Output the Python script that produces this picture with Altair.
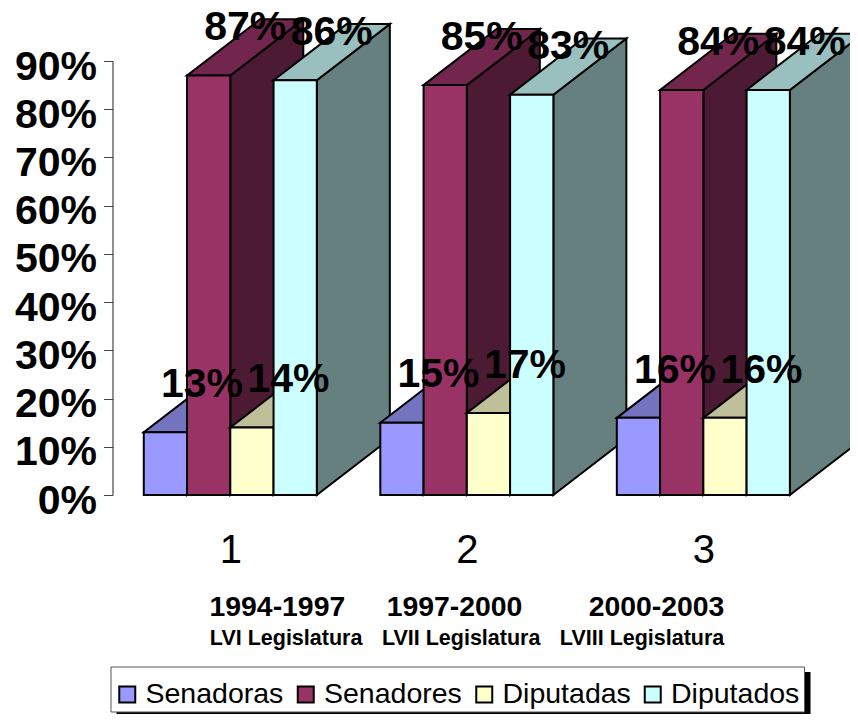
import altair as alt
import pandas as pd

FONT = "Liberation Sans"
series = ["Senadoras", "Senadores", "Diputadas", "Diputados"]
groups = [1, 2, 3]
senadoras = [0.13, 0.15, 0.16]
senadores = [0.87, 0.85, 0.84]
diputadas = [0.14, 0.17, 0.16]
diputados = [0.86, 0.83, 0.84]
values = [senadoras, senadores, diputadas, diputados]
front_colors = ["#9999FF", "#993366", "#FFFFCC", "#CCFFFF"]
top_colors = ["#7373BF", "#73264D", "#BFBF99", "#99BFBF"]
side_colors = ["#4D4D80", "#4D1A33", "#808066", "#668080"]
years = ["1994-1997", "1997-2000", "2000-2003"]
years_x = [1.199, 1.948, 2.802]
legislaturas = ["LVI Legislatura", "LVII Legislatura", "LVIII Legislatura"]
legislaturas_x = [1.236, 1.976, 2.741]

BAR_W = 0.1829   # one bar, in category units
DEPTH_X = 0.3087  # oblique depth, in category units
DEPTH_Y = 0.1165  # oblique depth, in value units

x_scale = alt.Scale(domain=[0.502, 3.620], nice=False, zero=False)
y_scale = alt.Scale(domain=[0, 0.9], nice=False)
color_scale = alt.Scale(domain=series, range=front_colors)

x_axis = alt.Axis(
    values=groups, format="d", domain=False, ticks=False, grid=False, title=None,
    labelFont=FONT, labelFontSize=40, labelColor="#000", labelPadding=35)
y_axis = alt.Axis(
    values=[i / 10 for i in range(10)], format=".0%", grid=False, title=None,
    domainColor="#222", tickColor="#444", tickSize=9, domainWidth=1,
    labelFont=FONT, labelFontSize=41, labelFontWeight="bold", labelOffset=6,
    labelColor="#000", labelPadding=7)

X = alt.X("x:Q", scale=x_scale, axis=x_axis)
Y = alt.Y("y:Q", scale=y_scale, axis=y_axis)

layers = []

# legend box and its shadow
dummy = pd.DataFrame({"a": [0]})
layers.append(alt.Chart(dummy).mark_rect(color="#000").encode(
    x=alt.value(4), x2=alt.value(698), y=alt.value(611), y2=alt.value(653)))
layers.append(alt.Chart(dummy).mark_rect(fill="#fff", stroke="#555", strokeWidth=1).encode(
    x=alt.value(-1.5), x2=alt.value(692), y=alt.value(606), y2=alt.value(651)))

label_rows = []
for g_i, g in enumerate(groups):
    left0 = g - 2 * BAR_W
    for s_i, name in enumerate(series):
        v = values[s_i][g_i]
        x0 = left0 + s_i * BAR_W
        x1 = x0 + BAR_W
        side = pd.DataFrame({"x": [x1, x1 + DEPTH_X], "y": [0, DEPTH_Y], "y2": [v, v + DEPTH_Y]})
        top = pd.DataFrame({"x": [x0, x0 + DEPTH_X], "x2": [x1, x1 + DEPTH_X], "y": [v, v + DEPTH_Y]})
        front = pd.DataFrame({"x": [x0], "x2": [x1], "y": [0], "y2": [v], "Serie": [name]})
        layers.append(alt.Chart(side).mark_area(
            color=side_colors[s_i], stroke="#000", strokeWidth=2, orient="vertical", strokeJoin="miter"
        ).encode(x=X, y=Y, y2="y2:Q"))
        layers.append(alt.Chart(top).mark_area(
            color=top_colors[s_i], stroke="#000", strokeWidth=2, orient="horizontal", strokeJoin="miter"
        ).encode(x=X, x2="x2:Q", y=Y))
        layers.append(alt.Chart(front).mark_rect(stroke="#000", strokeWidth=2).encode(
            x=X, x2="x2:Q", y=Y, y2="y2:Q",
            color=alt.Color("Serie:N", scale=color_scale, title=None, legend=alt.Legend(
                orient="none", legendX=0.5, legendY=619, direction="horizontal", columns=4,
                padding=0,
                symbolType="square", symbolSize=256, symbolStrokeColor="#000", symbolStrokeWidth=2,
                labelFont=FONT, labelFontSize=28.5, labelColor="#000", labelOffset=4,
                columnPadding=7.5, labelLimit=300, symbolOpacity=1)),
        ))
        label_rows.append({"x": (x0 + x1) / 2 + DEPTH_X / 2, "y": v + 0.098, "t": f"{round(v * 100)}%"})

layers.append(
    alt.Chart(pd.DataFrame(label_rows)).mark_text(
        font=FONT, fontSize=41, fontWeight="bold", color="#000", baseline="middle", align="center"
    ).encode(x=X, y=Y, text="t:N")
)
layers.append(
    alt.Chart(pd.DataFrame({"x": years_x, "t": years})).mark_text(
        font=FONT, fontSize=28.4, fontWeight="bold", color="#000", align="center", baseline="alphabetic"
    ).encode(x=X, y=alt.value(555), text="t:N")
)
layers.append(
    alt.Chart(pd.DataFrame({"x": legislaturas_x, "t": legislaturas})).mark_text(
        font=FONT, fontSize=21.5, fontWeight="bold", color="#000", align="center", baseline="alphabetic"
    ).encode(x=X, y=alt.value(584), text="t:N")
)

chart = alt.layer(*layers).resolve_scale(color="shared").properties(
    width=737.5, height=434,
    padding={"left": 104.5, "top": 53, "right": 0, "bottom": 219},
    autosize=alt.AutoSizeParams(type="none"),
    background="#ffffff",
).configure_view(stroke=None)

chart.save("out.html", embed_options={"renderer": "svg", "actions": False})
